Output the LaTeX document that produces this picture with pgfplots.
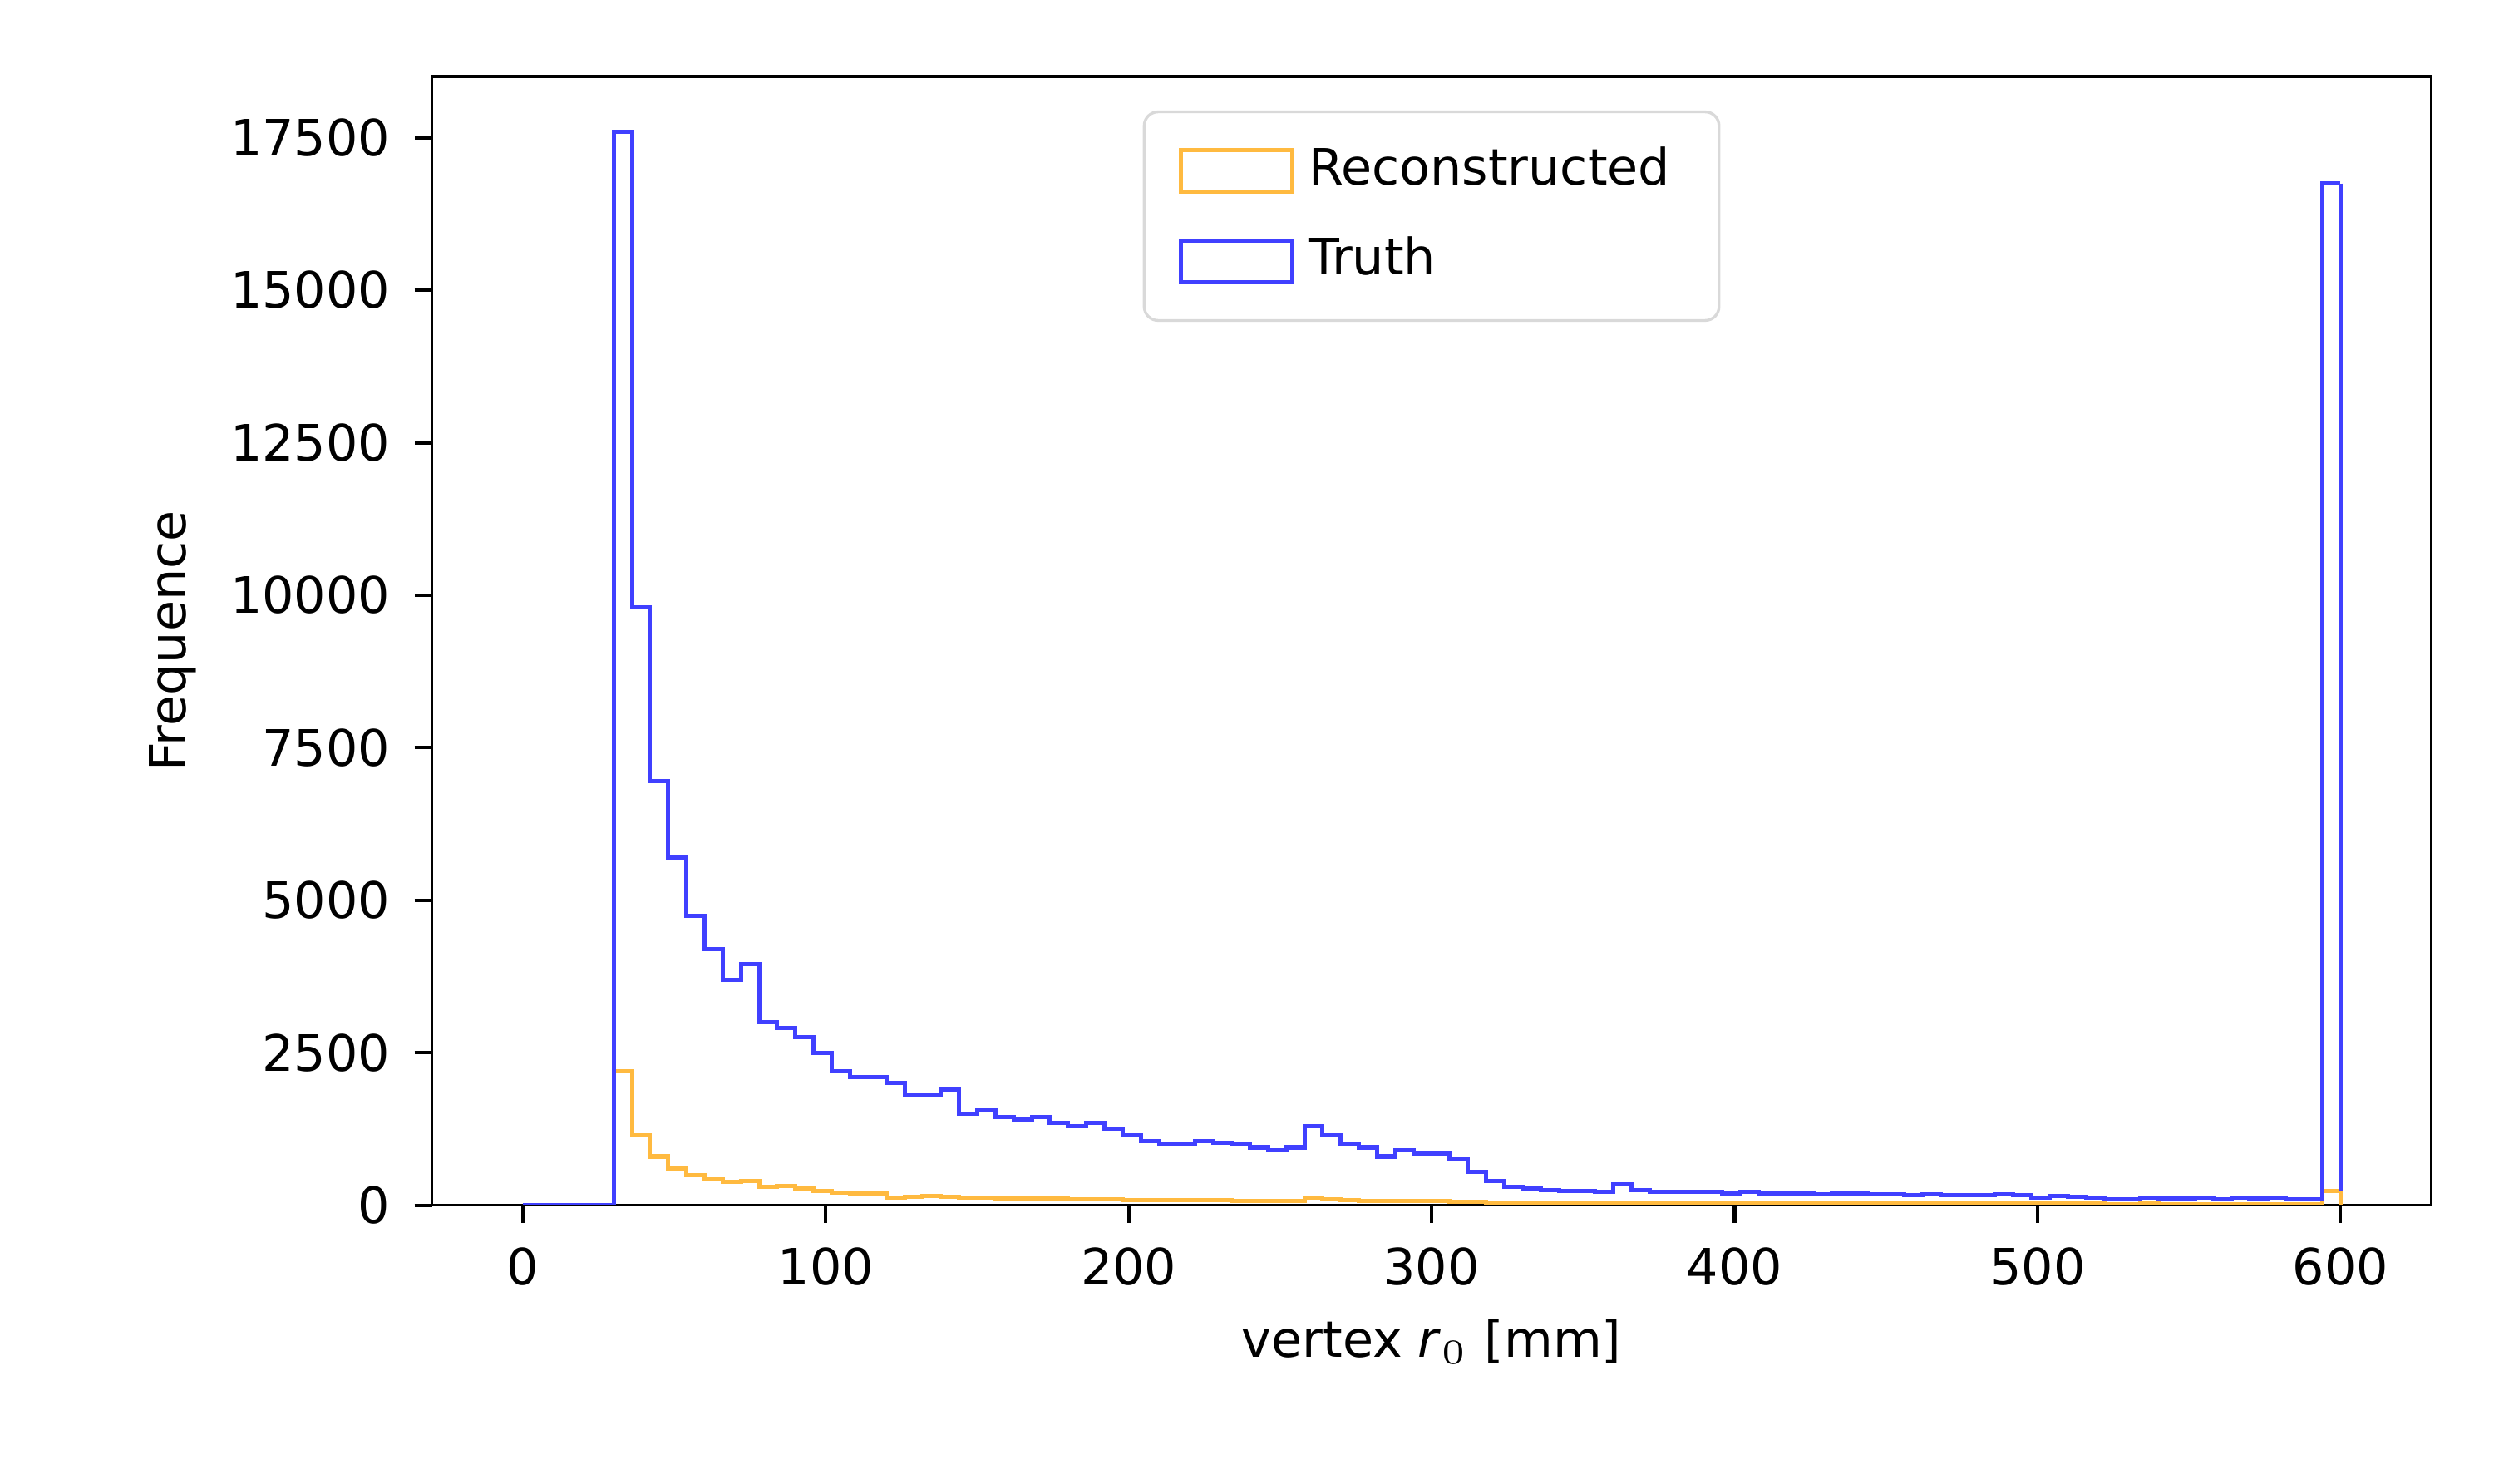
\documentclass[border=0pt]{standalone}
\usepackage{pgfplots}
\pgfplotsset{compat=1.18}
\usepackage{fontspec}
\setmainfont{DejaVu Sans}
\definecolor{tb}{HTML}{4040FF}
\definecolor{to}{HTML}{FFBA40}
\begin{document}
\begin{tikzpicture}
\begin{axis}[
  scale only axis, width=287pt, height=162pt,
  xmin=-30, xmax=630, ymin=0, ymax=18500,
  xtick={0,100,...,600}, ytick={0,2500,...,17500},
  /pgf/number format/assume math mode=true,
  scaled y ticks=false,
  yticklabel style={/pgf/number format/.cd,fixed,1000 sep={}},
  tick style={black, line width=0.5pt}, tick align=outside, tickwidth=2.5pt,
  xtick pos=bottom, ytick pos=left,
  xlabel={vertex \textit{r}$_0$ [mm]}, ylabel={Frequence},
  font=\fontsize{7.2}{9}\selectfont,
  xlabel style={yshift=2pt}, ylabel style={yshift=-2pt},
  legend style={at={(0.5,0.97)}, anchor=north, draw=black!15, rounded corners=2pt, font=\fontsize{7.2}{9}\selectfont, row sep=2pt, inner xsep=5pt, inner ysep=3pt},
  legend cell align=left,
  legend image code/.code={\draw[#1, sharp corners] (0pt,-3pt) rectangle (16pt,3pt);},
]
\addplot[const plot mark left, to, line width=0.6pt] coordinates {
(0,0)(6,0)(12,0)(18,0)(24,0)
(30,2200)(36,1150)(42,800)(48,600)(54,500)(60,430)(66,380)(72,400)(78,300)(84,320)
(90,270)(96,230)(102,210)(108,200)(114,200)(120,120)(126,140)(132,150)(138,140)(144,120)
(150,120)(156,110)(162,110)(168,115)(174,105)(180,100)(186,100)(192,95)(198,90)(204,85)
(210,85)(216,80)(222,80)(228,80)(234,75)(240,75)(246,75)(252,70)(258,120)(264,100)
(270,80)(276,75)(282,70)(288,70)(294,65)(300,65)(306,60)(312,55)(318,50)(324,45)
(330,40)(336,40)(342,40)(348,40)(354,40)(360,50)(366,40)(372,40)(378,40)(384,40)
(390,40)(396,35)(402,35)(408,35)(414,35)(420,35)(426,35)(432,35)(438,35)(444,30)
(450,30)(456,30)(462,30)(468,30)(474,30)(480,30)(486,30)(492,30)(498,25)(504,40)
(510,25)(516,25)(522,20)(528,20)(534,25)(540,20)(546,20)(552,20)(558,20)(564,20)
(570,20)(576,20)(582,20)(588,20)(594,230)(600,230)};
\addlegendentry{Reconstructed}
\addplot[const plot mark left, tb, line width=0.6pt] coordinates {
(0,0)(6,0)(12,0)(18,0)(24,0)
(30,17600)(36,9800)(42,6950)(48,5700)(54,4750)(60,4200)(66,3700)(72,3950)(78,3000)(84,2900)
(90,2750)(96,2500)(102,2200)(108,2100)(114,2100)(120,2000)(126,1800)(132,1800)(138,1900)(144,1500)
(150,1550)(156,1450)(162,1400)(168,1450)(174,1350)(180,1300)(186,1350)(192,1250)(198,1150)(204,1050)
(210,1000)(216,1000)(222,1050)(228,1020)(234,1000)(240,950)(246,900)(252,950)(258,1300)(264,1150)
(270,1000)(276,950)(282,800)(288,900)(294,850)(300,850)(306,750)(312,550)(318,400)(324,300)
(330,280)(336,250)(342,230)(348,230)(354,220)(360,350)(366,250)(372,220)(378,220)(384,220)
(390,220)(396,200)(402,220)(408,200)(414,200)(420,190)(426,180)(432,190)(438,190)(444,180)
(450,180)(456,170)(462,180)(468,170)(474,170)(480,170)(486,180)(492,160)(498,120)(504,150)
(510,140)(516,120)(522,100)(528,100)(534,130)(540,110)(546,110)(552,120)(558,100)(564,120)
(570,110)(576,120)(582,100)(588,100)(594,16750)(600,16750)};
\addlegendentry{Truth}
\draw[tb, line width=0.6pt] (axis cs:600,16750) -- (axis cs:600,0);
\draw[to, line width=0.6pt] (axis cs:600,230) -- (axis cs:600,0);
\end{axis}
\path (current axis.south west) ++(-62pt,-40pt) coordinate (a);
\path (current axis.north east) ++(9pt,11pt) coordinate (b);
\useasboundingbox (a) rectangle (b);
\end{tikzpicture}
\end{document}
